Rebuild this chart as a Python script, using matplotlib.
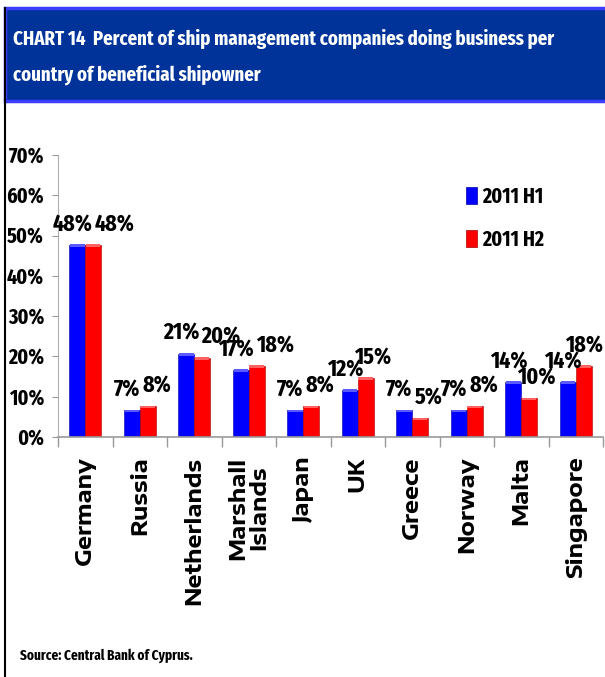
import matplotlib
matplotlib.use('Agg')
import matplotlib.pyplot as plt
from matplotlib.patches import Rectangle
from matplotlib.lines import Line2D
import numpy as np

countries = ['Germany', 'Russia', 'Netherlands', 'Marshall\nIslands', 'Japan',
             'UK', 'Greece', 'Norway', 'Malta', 'Singapore']
h1 = [48, 7, 21, 17, 7, 12, 7, 7, 14, 14]
h2 = [48, 8, 20, 18, 8, 15, 5, 8, 10, 18]
series_names = ['2011 H1', '2011 H2']
yticks = [0, 10, 20, 30, 40, 50, 60, 70]
title_lines = ['CHART 14  Percent of ship management companies doing business per',
               'country of beneficial shipowner']
source = 'Source: Central Bank of Cyprus.'

W, H = 605, 677
cond = ['Fira Sans Extra Condensed', 'DejaVu Sans']
wide = ['Encode Sans Expanded', 'DejaVu Sans']
plt.rcParams['font.family'] = cond
plt.rcParams['font.weight'] = 'bold'

fig = plt.figure(figsize=(W / 100, H / 100), dpi=100)
ax = fig.add_axes([58 / W, 1 - 437 / H, 545 / W, 282 / H])

x = np.arange(len(countries))
bw = 0.29
cols = ['#0000ff', '#ff0000']
tops = ['#5a5aff', '#ff6060']
edges = ['#0000a8', '#a80000']
for k, (vals, dx) in enumerate([(h1, -bw / 2), (h2, bw / 2)]):
    ax.bar(x + dx, vals, bw, bottom=-0.4, color=cols[k], edgecolor=edges[k],
           linewidth=0.4, label=series_names[k], zorder=2)
    # light bevel along the top of each bar
    ax.bar(x + dx, 0.7, bw * 0.92, bottom=np.array(vals) - 0.9, color=tops[k],
           linewidth=0, zorder=3)

lab1, lab2 = [], []
for xi, v in zip(x, h1):
    lab1.append(ax.annotate(f'{v}%', (xi - bw / 2, v), xytext=(-3.5, 9),
                            textcoords='offset points', ha='center', va='baseline',
                            fontsize=17, fontweight='bold'))
for xi, v in zip(x, h2):
    lab2.append(ax.annotate(f'{v}%', (xi + bw / 2, v), xytext=(5, 9),
                            textcoords='offset points', ha='center', va='baseline',
                            fontsize=17, fontweight='bold'))

ax.set_xlim(-0.5, len(countries) - 0.5)
ax.set_ylim(0, 70)
ax.set_yticks(yticks)
ax.set_yticklabels([f'{t}%' for t in yticks], fontsize=15.5, fontweight='bold')
ax.set_xticks(x)
ax.set_xticklabels(countries, rotation=90, fontsize=16, fontweight='bold',
                   family=wide, va='top', ha='center', linespacing=0.95)
ax.set_xticks(np.arange(-0.5, len(countries)), minor=True)
ax.tick_params(axis='x', which='major', length=0, pad=14)
ax.tick_params(axis='x', which='minor', length=7, color='#999999', width=1)
ax.tick_params(axis='y', length=4, color='#999999', pad=6)
for s in ['top', 'right']:
    ax.spines[s].set_visible(False)
ax.spines['left'].set_color('#b0b0b0')
ax.spines['bottom'].set_color('#999999')
ax.spines['bottom'].set_linewidth(1.2)
ax.spines['bottom'].set_zorder(4)

handles = [Rectangle((0, 0), 1, 1, facecolor=c, edgecolor=e, linewidth=0.5)
           for c, e in zip(cols, edges)]
fig.legend(handles, series_names, loc='upper left', bbox_to_anchor=(466 / W, 1 - 186 / H),
           bbox_transform=fig.transFigure, frameon=False, borderpad=0, borderaxespad=0,
           handlelength=0.53, handleheight=0.85, handletextpad=0.2, labelspacing=1.0,
           prop={'family': cond, 'weight': 'bold', 'size': 15.5})

# title banner with the frame line down the left side
fig.patches.append(Rectangle((5 / W, 1 - 101 / H), 1.0, 93 / H, transform=fig.transFigure,
                             facecolor='#003399', edgecolor='#3d3dff', linewidth=2.5))
fig.lines.append(Line2D([4.5 / W, 4.5 / W], [0, 1 - 8 / H], transform=fig.transFigure,
                        color='black', linewidth=1.5))
t1 = fig.text(13 / W, 1 - 45 / H, title_lines[0], color='white', fontsize=17,
              fontweight='bold', va='baseline')
t2 = fig.text(13 / W, 1 - 81 / H, title_lines[1], color='white', fontsize=17,
              fontweight='bold', va='baseline')
src = fig.text(20 / W, 1 - 660 / H, source, fontsize=11, fontweight='bold', va='baseline')

fig.canvas.draw()
fs = 17 * 543 / t1.get_window_extent().width
t1.set_fontsize(fs)
t2.set_fontsize(fs)
src.set_fontsize(11 * 172 / src.get_window_extent().width)

# push a pair's second label right when the two labels sit side by side and collide,
# but keep it inside the figure
r = fig.canvas.get_renderer()
for a, b in zip(lab1, lab2):
    ea, eb = a.get_window_extent(r), b.get_window_extent(r)
    vo = min(ea.y1, eb.y1) - max(ea.y0, eb.y0)
    gap = eb.x0 - ea.x1
    shift = 0
    if vo > 0.5 * ea.height and gap < 2:
        shift = 2 - gap
    over = eb.x1 + shift - (W - 2)
    if over > 0:
        shift -= over
    if shift:
        px, py = b.xyann
        b.xyann = (px + shift * 72 / fig.dpi, py)

fig.savefig('out.png', dpi=100)
